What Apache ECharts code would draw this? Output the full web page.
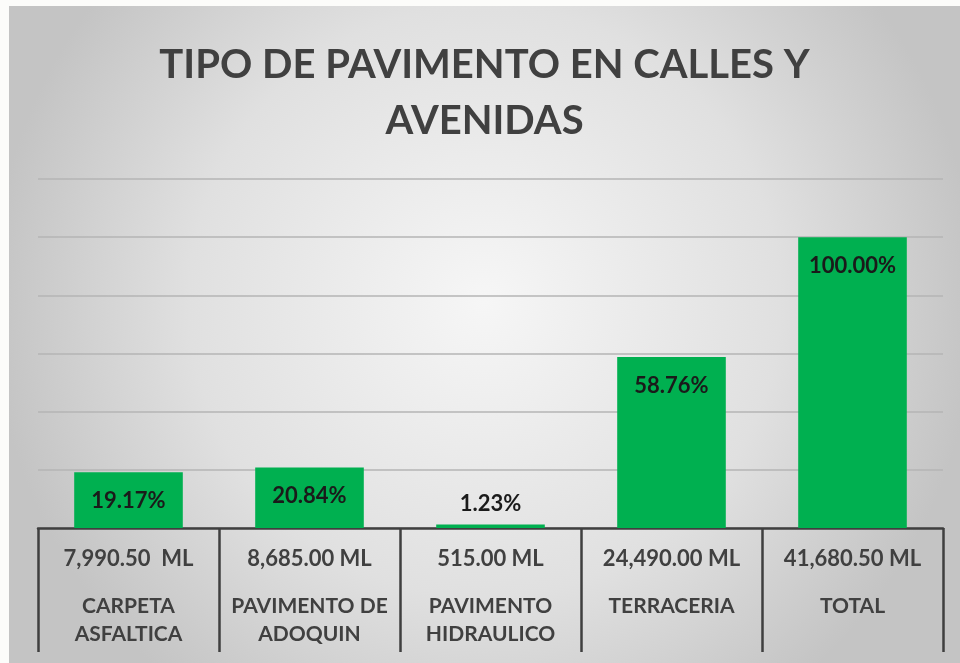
<!DOCTYPE html>
<html>
<head>
<meta charset="utf-8">
<script src="https://cdn.jsdelivr.net/npm/echarts@6/dist/echarts.min.js"></script>
<style>
  html, body { margin: 0; padding: 0; background: #fcfcfa; }
  #main { position: absolute; left: 9px; top: 6px; width: 951px; height: 657px; }
</style>
</head>
<body>
<div id="main"></div>
<script>
// ===== 数据 =====
const amounts = ['7,990.50  ML', '8,685.00 ML', '515.00 ML', '24,490.00 ML', '41,680.50 ML'];
const names = ['CARPETA\nASFALTICA', 'PAVIMENTO DE\nADOQUIN', 'PAVIMENTO\nHIDRAULICO', 'TERRACERIA', 'TOTAL'];
const shares = [0.1917, 0.2084, 0.0123, 0.5876, 1.0];
const shareLabels = ['19.17%', '20.84%', '1.23%', '58.76%', '100.00%'];

const FONT = 'Lato, "Open Sans", sans-serif';
const chart = echarts.init(document.getElementById('main'));

const barData = shares.map((v, i) => {
  const item = { value: v };
  // 太矮的柱子标签放到柱顶外侧
  if (v < 0.05) item.label = { position: 'top', distance: 10 };
  return item;
});

chart.setOption({
  backgroundColor: new echarts.graphic.RadialGradient(0.5, 0.45, 0.75, [
    { offset: 0, color: '#f6f6f6' },
    { offset: 0.6, color: '#e0e0e0' },
    { offset: 1, color: '#c4c4c4' }
  ]),
  title: {
    text: 'TIPO DE PAVIMENTO EN CALLES Y\nAVENIDAS',
    left: 'center',
    top: 26,
    textStyle: { fontFamily: FONT, fontSize: 40, fontWeight: 'bold', color: '#404040', lineHeight: 56 }
  },
  grid: { left: 29, right: 17, top: 173, bottom: 135 },
  xAxis: [
    {
      type: 'category',
      data: amounts,
      position: 'bottom',
      axisLine: { lineStyle: { color: '#3f3f3f', width: 2.5 } },
      axisTick: { show: true, length: 124, lineStyle: { color: '#3f3f3f', width: 2.5 } },
      axisLabel: { margin: 20, interval: 0, fontFamily: FONT, fontSize: 22, fontWeight: 'bold', color: '#404040' }
    },
    {
      type: 'category',
      data: names,
      position: 'bottom',
      axisLine: { show: false },
      axisTick: { show: false },
      axisLabel: { margin: 64, interval: 0, fontFamily: FONT, fontSize: 21, fontWeight: 'bold', color: '#404040', lineHeight: 28 }
    }
  ],
  yAxis: {
    type: 'value',
    min: 0,
    max: 1.2,
    interval: 0.2,
    axisLabel: { show: false },
    axisLine: { show: false },
    axisTick: { show: false },
    splitLine: { lineStyle: { color: '#b5b5b5', width: 1.5 } }
  },
  series: [{
    type: 'bar',
    xAxisIndex: 0,
    data: barData,
    barWidth: '60%',
    itemStyle: { color: '#00b050' },
    label: {
      show: true,
      position: 'insideTop',
      distance: 18,
      formatter: p => shareLabels[p.dataIndex],
      fontFamily: FONT,
      fontSize: 22,
      fontWeight: 'bold',
      color: '#1a1a1a'
    }
  }],
  animation: false
});
</script>
</body>
</html>
